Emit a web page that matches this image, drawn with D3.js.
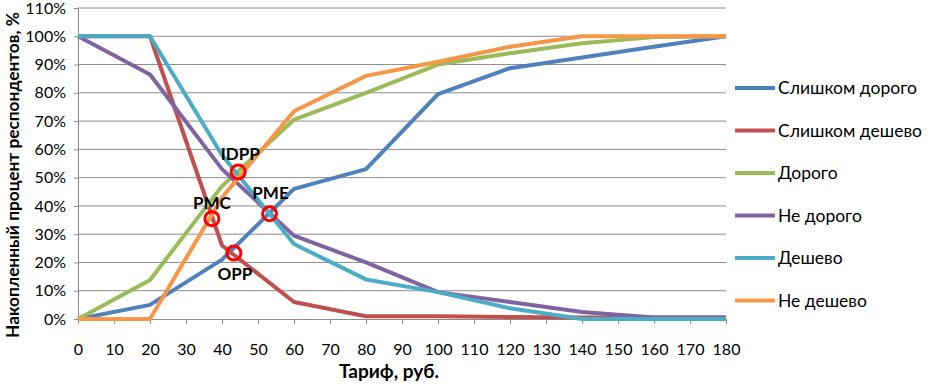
<!DOCTYPE html>
<html>
<head>
<meta charset="utf-8">
<script src="https://cdn.jsdelivr.net/npm/d3@7"></script>
<style>
  body { margin: 0; background: #fff; }
  svg { display: block; font-family: Lato, "Open Sans", sans-serif; }
</style>
</head>
<body>
<div id="chart"></div>
<script>
// tariff points (rub.)
const tariffs = [0, 20, 40, 60, 80, 100, 120, 140, 160, 180];

// cumulative share of respondents, %
const tooDear      = [0, 5, 21, 46, 53, 79.5, 88.7, 92.5, 96.3, 100];
const tooCheap     = [100, 100, 26, 6, 1, 1, 0.7, 0.5, 0.5, 0.5];
const dear         = [0, 13.8, 47, 70.5, 80, 90, 94, 97.5, 99.7, 100];
const notDear      = [100, 86.5, 53, 29.5, 20, 9.5, 6, 2.5, 0.5, 0.5];
const cheap        = [100, 100, 58, 26.5, 14, 9.5, 3.8, 0, 0, 0];
const notCheap     = [0, 0, 43, 73.5, 86, 91, 96.3, 100, 100, 100];

const seriesNames  = ["Слишком дорого", "Слишком дешево", "Дорого", "Не дорого", "Дешево", "Не дешево"];
const seriesValues = [tooDear, tooCheap, dear, notDear, cheap, notCheap];
const seriesColors = ["#4F81BD", "#C0504D", "#9BBB59", "#8064A2", "#4BACC6", "#F79646"];

// price-sensitivity points
const pointNames  = ["PMC", "IDPP", "PME", "OPP"];
const pointX      = [37.2, 44.5, 53.2, 43.3];
const pointY      = [35.5, 52, 37.2, 23.3];

const xTicks = d3.range(0, 181, 10);
const yTicks = d3.range(0, 111, 10);

const width = 928, height = 385;
const margin = { top: 8, left: 78, right: 202, bottom: 66 };
const innerWidth = width - margin.left - margin.right;
const innerHeight = height - margin.top - margin.bottom;

const svg = d3.select("#chart").append("svg")
    .attr("width", width)
    .attr("height", height);

const g = svg.append("g")
    .attr("transform", `translate(${margin.left},${margin.top})`);

const xScale = d3.scaleLinear().domain([0, 180]).range([0, innerWidth]);
const yScale = d3.scaleLinear().domain([0, 110]).range([innerHeight, 0]);

// horizontal grid
g.append("g")
    .selectAll("line")
    .data(yTicks.filter(d => d > 0))
    .join("line")
        .attr("x1", 0)
        .attr("x2", innerWidth)
        .attr("y1", d => yScale(d))
        .attr("y2", d => yScale(d))
        .attr("stroke", "#8c8c8c")
        .attr("stroke-width", 1);

// y axis
const yAxis = g.append("g")
    .call(d3.axisLeft(yScale).tickValues(yTicks).tickFormat(d => d + "%").tickSize(4).tickSizeOuter(0).tickPadding(8))
    .attr("font-size", 16)
    .attr("font-family", null);
yAxis.select(".domain").attr("stroke", "#8c8c8c");
yAxis.selectAll(".tick line").attr("stroke", "#8c8c8c");
yAxis.selectAll(".tick text").attr("fill", "#000");

// x axis
const xAxis = g.append("g")
    .attr("transform", `translate(0,${innerHeight})`)
    .call(d3.axisBottom(xScale).tickValues(xTicks).tickSize(5).tickSizeOuter(0).tickPadding(20))
    .attr("font-size", 16)
    .attr("font-family", null);
xAxis.select(".domain").attr("stroke", "#8c8c8c");
xAxis.selectAll(".tick line").attr("stroke", "#8c8c8c");
xAxis.selectAll(".tick text").attr("fill", "#000");

// lines
const line = d3.line()
    .x((d, i) => xScale(tariffs[i]))
    .y(d => yScale(d));

g.append("g")
    .selectAll("path")
    .data(seriesValues)
    .join("path")
        .attr("d", d => line(d))
        .attr("fill", "none")
        .attr("stroke", (d, i) => seriesColors[i])
        .attr("stroke-width", 4)
        .attr("stroke-linejoin", "round");

// marked points
const points = pointNames.map((name, i) => ({ name, x: pointX[i], y: pointY[i] }));
const labelOffset = { PMC: [0, -10], IDPP: [2, -12], PME: [1, -15], OPP: [1, 27] };

g.append("g")
    .selectAll("circle")
    .data(points)
    .join("circle")
        .attr("cx", d => xScale(d.x))
        .attr("cy", d => yScale(d.y))
        .attr("r", 7)
        .attr("fill", "none")
        .attr("stroke", "#FF0000")
        .attr("stroke-width", 3);

g.append("g")
    .selectAll("text")
    .data(points)
    .join("text")
        .attr("x", d => xScale(d.x) + labelOffset[d.name][0])
        .attr("y", d => yScale(d.y) + labelOffset[d.name][1])
        .attr("text-anchor", "middle")
        .attr("font-size", 17)
        .attr("font-weight", "bold")
        .attr("fill", "#000")
        .text(d => d.name);

// axis titles
svg.append("text")
    .attr("x", 389)
    .attr("y", 378)
    .attr("text-anchor", "middle")
    .attr("font-size", 19)
    .attr("font-weight", "bold")
    .text("Тариф, руб.");

svg.append("text")
    .attr("transform", "translate(19,175) rotate(-90)")
    .attr("text-anchor", "middle")
    .attr("font-size", 17.3)
    .attr("font-weight", "bold")
    .text("Накопленный процент респондентов, %");

// legend
const legend = svg.append("g")
    .selectAll("g")
    .data(seriesNames)
    .join("g")
        .attr("transform", (d, i) => `translate(735,${88 + i * 42.5})`);

legend.append("line")
    .attr("x1", 0)
    .attr("x2", 40)
    .attr("stroke", (d, i) => seriesColors[i])
    .attr("stroke-width", 4);

legend.append("text")
    .attr("x", 43)
    .attr("dy", "0.35em")
    .attr("font-size", 17.5)
    .text(d => d);
</script>
</body>
</html>
